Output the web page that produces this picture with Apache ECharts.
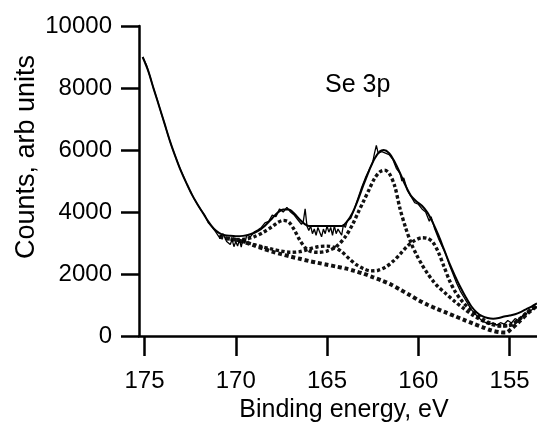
<!DOCTYPE html>
<html>
<head>
<meta charset="utf-8">
<script src="https://cdn.jsdelivr.net/npm/echarts@6/dist/echarts.min.js"></script>
<style>
    html, body {margin: 0; padding: 0; background: #fff;}
    #chart {width: 537px; height: 428px;}
</style>
</head>
<body>
<div id="chart"></div>
<script>
// Se 3p spectrum: measured counts (noisy) and fitted envelope
var dataE = [175.1, 174.9, 174.7, 174.5, 174.3, 174.1, 173.9, 173.7, 173.5, 173.3, 173.1, 172.9, 172.7, 172.5, 172.3, 172.1,
    171.9, 171.7, 171.5, 171.3, 171.1, 170.9, 170.7, 170.5, 170.3, 170.2, 170.1, 170.0, 169.9, 169.8, 169.7, 169.6,
    169.5, 169.4, 169.2, 169.0, 168.8, 168.6, 168.4, 168.2, 168.0, 167.8, 167.6, 167.4, 167.2, 167.0, 166.8, 166.6,
    166.4, 166.3, 166.2, 166.1, 166.0, 165.9, 165.8, 165.7, 165.6, 165.5, 165.4, 165.3, 165.2, 165.1, 165.0, 164.9,
    164.8, 164.7, 164.6, 164.5, 164.4, 164.3, 164.2, 164.1, 164.0, 163.9, 163.7, 163.5, 163.3, 163.1, 162.9, 162.7,
    162.5, 162.4, 162.3, 162.2, 162.0, 161.8, 161.6, 161.4, 161.2, 161.0, 160.9, 160.8, 160.6, 160.4, 160.2, 160.0,
    159.8, 159.6, 159.4, 159.3, 159.1, 158.9, 158.7, 158.5, 158.3, 158.1, 157.9, 157.7, 157.5, 157.3, 157.1, 156.9,
    156.7, 156.5, 156.3, 156.1, 155.9, 155.7, 155.5, 155.3, 155.1, 154.9, 154.7, 154.5, 154.3, 154.1, 153.9, 153.7, 153.5];
var dataV = [9000, 8750, 8380, 7980, 7620, 7220, 6850, 6460, 6100, 5780, 5470, 5200, 4930, 4680, 4450, 4250,
    4060, 3900, 3650, 3520, 3360, 3180, 3300, 3050, 2950, 3120, 2880, 3050, 2900, 3100, 2870, 3150,
    3000, 3250, 3200, 3350, 3420, 3500, 3650, 3700, 3900, 3850, 4100, 4000, 4150, 4000, 3900, 3750,
    3600, 3700, 4100, 3550, 3400, 3550, 3300, 3450, 3250, 3500, 3350, 3200, 3450, 3300, 3550, 3350,
    3500, 3250, 3550, 3300, 3450, 3350, 3250, 3600, 3500, 3700, 3800, 4100, 4450, 4800, 5100, 5350,
    5600, 5900, 6150, 5900, 5950, 5900, 5850, 5700, 5400, 5250, 5000, 5100, 4700, 4500, 4300, 4250,
    4100, 4000, 3700, 3850, 3450, 3150, 2900, 2650, 2300, 2000, 1700, 1450, 1250, 1050, 850, 720,
    600, 480, 430, 380, 420, 350, 430, 380, 500, 420, 560, 500, 650, 720, 800, 880, 950];

var fitE = [175.1, 174.8, 174.5, 174.2, 173.9, 173.6, 173.3, 173.0, 172.7, 172.4, 172.1, 171.8, 171.5, 171.2, 170.9, 170.6,
    170.3, 170.0, 169.6, 169.2, 168.8, 168.4, 168.0, 167.7, 167.4, 167.1, 166.8, 166.5, 166.2, 166.0, 164.2, 163.9,
    163.6, 163.3, 163.0, 162.7, 162.4, 162.1, 161.9, 161.6, 161.3, 161.0, 160.7, 160.4, 160.1, 159.8, 159.5, 159.2,
    158.9, 158.6, 158.3, 158.0, 157.7, 157.4, 157.1, 156.8, 156.5, 156.2, 155.9, 155.6, 155.3, 155.0, 154.7, 154.4,
    154.1, 153.8, 153.5];
var fitV = [9000, 8560, 7980, 7420, 6850, 6280, 5780, 5320, 4930, 4560, 4250, 3970, 3690, 3460, 3320, 3250,
    3230, 3220, 3230, 3280, 3380, 3560, 3800, 3980, 4080, 4080, 3950, 3760, 3600, 3550, 3550, 3700,
    3980, 4400, 4880, 5330, 5720, 5960, 6000, 5900, 5620, 5250, 4850, 4520, 4340, 4200, 3980, 3650,
    3250, 2800, 2350, 1950, 1580, 1250, 960, 760, 640, 580, 560, 580, 630, 660, 700, 770,
    860, 950, 1050];

// fit components (dotted): background, background + doublet 1, background + doublet 2
var bgE = [170.9, 170.5, 170.0, 169.5, 169.0, 168.5, 168.0, 167.5, 167.0, 166.5, 166.0, 165.5, 165.0, 164.5, 164.0, 163.5,
    163.0, 162.5, 162.0, 161.5, 161.0, 160.5, 160.0, 159.5, 159.0, 158.5, 158.0, 157.5, 157.0, 156.5, 156.0, 155.5,
    155.2, 155.0, 154.5, 154.0, 153.5];
var bgV = [3200, 3150, 3100, 3020, 2920, 2820, 2720, 2640, 2560, 2490, 2420, 2360, 2300, 2240, 2180, 2100,
    2010, 1900, 1790, 1660, 1500, 1330, 1160, 1010, 880, 760, 640, 520, 400, 290, 180, 120,
    110, 180, 450, 740, 980];

var d1E = [170.9, 170.5, 170.0, 169.5, 169.0, 168.5, 168.0, 167.7, 167.4, 167.1, 166.8, 166.5, 166.2, 165.9, 165.5, 165.0,
    164.5, 164.0, 163.6, 163.3, 163.0, 162.7, 162.4, 162.1, 161.85, 161.6, 161.3, 161.0, 160.7, 160.4, 160.1, 159.8,
    159.5, 159.2, 158.9, 158.5, 158.0, 157.5, 157.0, 156.5, 156.0, 155.5, 155.0, 154.5, 154.0, 153.5];
var d1V = [3200, 3150, 3110, 3120, 3200, 3340, 3530, 3660, 3730, 3680, 3430, 3100, 2850, 2730, 2700, 2740,
    2880, 3200, 3600, 3980, 4350, 4720, 5080, 5300, 5350, 5250, 4850, 4100, 3500, 3000, 2620, 2300,
    2020, 1780, 1580, 1370, 1110, 880, 670, 500, 380, 320, 340, 520, 770, 990];

var d2E = [170.9, 170.5, 170.0, 169.5, 169.0, 168.5, 168.0, 167.5, 167.0, 166.5, 166.0, 165.5, 165.0, 164.6, 164.2, 163.8,
    163.4, 163.0, 162.6, 162.2, 161.8, 161.4, 161.0, 160.6, 160.2, 159.8, 159.5, 159.2, 158.9, 158.6, 158.3, 158.0,
    157.6, 157.2, 156.8, 156.4, 156.0, 155.5, 155.0, 154.5, 154.0, 153.5];
var d2V = [3200, 3150, 3100, 3030, 2950, 2870, 2800, 2740, 2700, 2720, 2800, 2880, 2900, 2860, 2720, 2500,
    2300, 2170, 2100, 2120, 2220, 2400, 2640, 2900, 3080, 3170, 3150, 3020, 2700, 2250, 1800, 1450,
    1120, 880, 680, 520, 400, 330, 350, 530, 780, 1000];

var xTicks = [175, 170, 165, 160, 155];

var FONT = "'Liberation Sans', Arial, Helvetica, sans-serif";

function pairs(xs, ys) {
    var out = [];
    for (var i = 0; i < xs.length; i++) {
        out.push([xs[i], ys[i]]);
    }
    return out;
}

var myChart = echarts.init(document.getElementById('chart'), null, {renderer: 'canvas'});
var axisLine = {show: true, lineStyle: {color: '#000', width: 2.5}};

var dotted = function (name, xs, ys, w) {
    return {
        name: name,
        type: 'line',
        data: pairs(xs, ys),
        showSymbol: false,
        smooth: 0.3,
        lineStyle: {color: '#111', width: w, type: [w, w * 0.7]},
        z: 2
    };
};

var option = {
    animation: false,
    backgroundColor: '#fff',
    grid: {left: 139, right: 0, top: 26, bottom: 92},
    xAxis: {
        type: 'value',
        inverse: true,
        min: 153.5,
        max: 175.3,
        axisLine: axisLine,
        axisTick: {show: true, inside: false, length: 20, customValues: xTicks, lineStyle: {color: '#000', width: 2.5}},
        axisLabel: {customValues: xTicks, margin: 33, color: '#000', fontSize: 24, fontFamily: FONT},
        splitLine: {show: false},
        name: 'Binding energy, eV',
        nameLocation: 'middle',
        nameGap: 58,
        nameTextStyle: {color: '#000', fontSize: 25, fontFamily: FONT, padding: [0, 0, 0, 12]}
    },
    yAxis: {
        type: 'value',
        min: 0,
        max: 10000,
        interval: 2000,
        axisLine: axisLine,
        axisTick: {show: true, inside: false, length: 18, lineStyle: {color: '#000', width: 2.5}},
        axisLabel: {
            margin: 27, color: '#000', fontSize: 24, fontFamily: FONT,
            formatter: function (v) {
                return String(v);
            }
        },
        splitLine: {show: false}
    },
    graphic: [
        {
            type: 'text', x: 27, y: 157, rotation: Math.PI / 2,
            style: {text: 'Counts, arb units', fill: '#000', font: '27px ' + FONT, align: 'center', verticalAlign: 'middle'}
        },
        {
            type: 'text', x: 325, y: 85,
            style: {text: 'Se 3p', fill: '#000', font: '25px ' + FONT, align: 'left', verticalAlign: 'middle'}
        }
    ],
    series: [
        dotted('background', bgE, bgV, 4),
        dotted('doublet 1', d1E, d1V, 3.4),
        dotted('doublet 2', d2E, d2V, 3.4),
        {
            name: 'fit',
            type: 'line',
            data: pairs(fitE, fitV),
            showSymbol: false,
            smooth: 0.3,
            lineStyle: {color: '#000', width: 2},
            z: 3
        },
        {
            name: 'data',
            type: 'line',
            data: pairs(dataE, dataV),
            showSymbol: false,
            lineStyle: {color: '#000', width: 1.3},
            z: 4
        }
    ]
};
myChart.setOption(option);
</script>
</body>
</html>
